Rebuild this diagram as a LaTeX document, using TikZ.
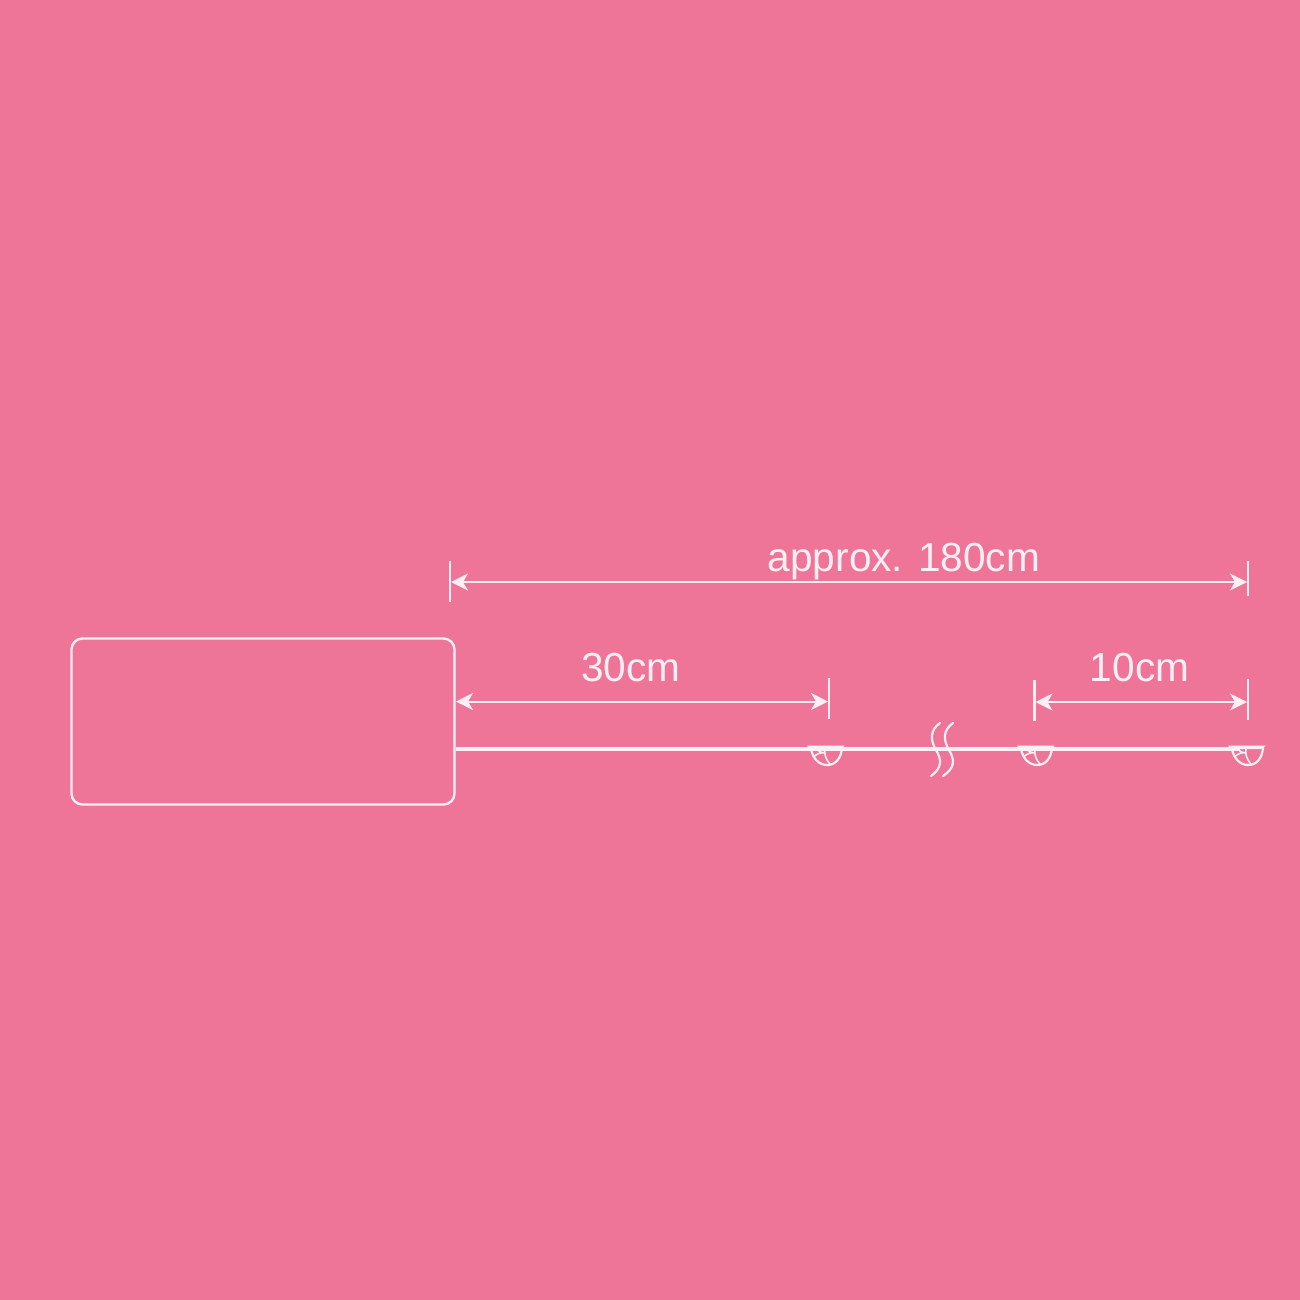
\documentclass[tikz,border=0pt]{standalone}
\usepackage{fontspec}
\setmainfont{Liberation Sans}
\usetikzlibrary{arrows.meta}
\definecolor{bgpink}{HTML}{EE7498}
\definecolor{linew}{HTML}{FDEFF3}
\tikzset{
  x=1pt,y=-1pt,
  thin line/.style={draw=linew,line width=2.2pt},
  dimline/.style={draw=linew,line width=2pt,{Stealth[length=17pt,width=17pt,inset=5pt]}-{Stealth[length=17pt,width=17pt,inset=5pt]}},
  tick/.style={draw=linew,line width=2.2pt},
  label/.style={text=linew,font=\fontsize{40.6}{40.6}\selectfont,inner sep=0pt,anchor=base},
  cable/.style={draw=linew,line width=4.2pt},
  pics/bulb/.style={code={
    \draw[draw=linew,line width=2.2pt,line cap=round]
      (-15,0) .. controls (-14,10) and (-7,17) .. (1,17)
      .. controls (10,17) and (15,10) .. (16,0);
    \draw[draw=linew,line width=1.6pt]
      (-1,1) .. controls (-2,6) and (0,12) .. (4,16)
      (-13,9) .. controls (-8,5) and (-4,4) .. (-1,5)
      (-10,0) .. controls (-7,4) and (-4,5) .. (-1,5);
    \fill[linew] (-19,-2.5) -- (19,-2.5) .. controls (17,0) and (15,1) .. (13,1) -- (-14,1) .. controls (-16,1) and (-18,0) .. cycle;
  }}
}
\begin{document}
\begin{tikzpicture}
\useasboundingbox (0,0) rectangle (1300,1300);
\fill[bgpink] (0,0) rectangle (1300,1300);
\node[draw=linew,line width=2.4pt,rounded corners=11pt,minimum width=383pt,minimum height=166pt,inner sep=0pt] (box) at (263,721.5) {};
\coordinate (cableA) at (box.east |- 0,749);
\coordinate (cableB) at (1240,749);
\draw[cable] (cableA) -- (cableB);
\draw pic at (826,748) {bulb} pic at (1036,748) {bulb} pic at (1247,748) {bulb};
% break marks
\draw[thin line,line cap=round] (940,723) .. controls (930,730) and (930,740) .. (936,750) .. controls (942,760) and (942,768) .. (931,776);
\draw[thin line,line cap=round] (953,723) .. controls (943,730) and (943,740) .. (949,750) .. controls (955,760) and (955,768) .. (943,776);
% extension ticks
\coordinate (t1a) at (450,561); \coordinate (t1b) at (450,602);
\coordinate (t2a) at (1248,561); \coordinate (t2b) at (1248,596);
\coordinate (t3a) at (829,678); \coordinate (t3b) at (829,719);
\coordinate (t4a) at (1034.5,680); \coordinate (t4b) at (1034.5,721);
\coordinate (t5a) at (1248,679); \coordinate (t5b) at (1248,720);
\foreach \a/\b in {t1a/t1b,t2a/t2b,t3a/t3b,t4a/t4b,t5a/t5b} \draw[tick] (\a) -- (\b);
% dimension lines
\coordinate (d1l) at (451,582); \coordinate (d1r) at (1247,582);
\coordinate (d2l) at (456,701.5); \coordinate (d2r) at (828,701.5);
\coordinate (d3l) at (1035.5,702); \coordinate (d3r) at (1247,702);
\draw[dimline] (d1l) -- (d1r);
\draw[dimline] (d2l) -- (d2r);
\draw[dimline] (d3l) -- (d3r);
\node[label] (lab1) at (904,571) {approx. 180cm};
\node[label] (lab2) at (631,681) {30cm};
\node[label] (lab3) at (1139.5,681) {10cm};
\end{tikzpicture}
\end{document}
